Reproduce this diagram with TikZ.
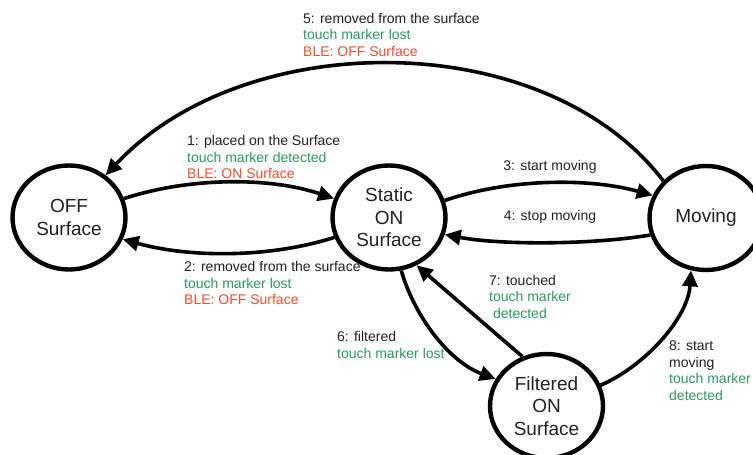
\documentclass[tikz,border=0pt]{standalone}
\usepackage{fontspec}
\setmainfont{Liberation Sans}
\usetikzlibrary{arrows.meta,shapes.geometric}
\definecolor{lblgreen}{HTML}{2E9A62}
\definecolor{lblred}{HTML}{F0502F}
\definecolor{lbltext}{HTML}{222222}
\tikzset{
  state/.style={ellipse,draw=black,line width=4.4pt,minimum width=113pt,minimum height=104pt,inner sep=0pt,
    align=center,font=\fontsize{19}{22.5}\selectfont,text=lbltext,fill=white},
  trans/.style={line width=3.6pt,-{Triangle[length=16pt,width=15pt]}},
  lbl/.style={align=left,anchor=north west,inner sep=0pt,font=\fontsize{14}{16.5}\selectfont,text=lbltext},
  lblc/.style={anchor=center,inner sep=0pt,font=\fontsize{14}{16.5}\selectfont,text=lbltext},
}
\newcommand{\grn}[1]{\textcolor{lblgreen}{#1}}
\newcommand{\rd}[1]{\textcolor{lblred}{#1}}
\begin{document}
\begin{tikzpicture}[x=1pt,y=-1pt]
\useasboundingbox (0,0) rectangle (753,455);
\clip (0,0) rectangle (753,455);
\fill[white] (0,0) rectangle (753,455);

\node[state] (off) at (69,217.5) {OFF\\Surface};
\node[state] (static) at (389,217.5) {Static\\ON\\Surface};
\node[state] (moving) at (706,218) {Moving};
\node[state] (filt) at (546.5,406) {Filtered\\ON\\Surface};

% 1
\draw[trans] (off.19.5) .. controls (190,177) and (270,177) .. (static.161);
% 2
\draw[trans] (static.-160) .. controls (270,258) and (190,258) .. (off.-22);
% 3
\draw[trans] (static.17) .. controls (510,178) and (590,178) .. (moving.157);
% 4
\draw[trans] (moving.-163) .. controls (590,245) and (500,245) .. (static.-17);
% 5
\draw[trans] (moving.139) .. controls (545,26) and (245,26) .. (off.49.5);
% 6
\draw[trans] (static.-77) .. controls (415,318) and (450,362) .. (filt.152);
% 7
\draw[trans] (filt.116) -- (static.-60);
% 8
\draw[trans] (filt.21.6) .. controls (645,366) and (688,318) .. (moving.-106);

\node[lbl] (l5) at (303,12.8) {5: removed from the surface\\\grn{touch marker lost}\\\rd{BLE: OFF Surface}};
\node[lbl] (l1) at (187,135.5) {1: placed on the Surface\\\grn{touch marker detected}\\\rd{BLE: ON Surface}};
\node[lbl] (l2) at (184,261.5) {2: removed from the surface\\\grn{touch marker lost}\\\rd{BLE: OFF Surface}};
\node[lblc] (l3) at (550,167) {3: start moving};
\node[lblc] (l4) at (550,217) {4: stop moving};
\node[lbl] (l6) at (337,331.5) {6: filtered\\\grn{touch marker lost}};
\node[lbl] (l7) at (489,275) {7: touched\\\grn{touch marker}\\\grn{\ detected}};
\node[lbl] (l8) at (669,340.7) {8: start\\moving\\\grn{touch marker}\\\grn{detected}};
\end{tikzpicture}
\end{document}
